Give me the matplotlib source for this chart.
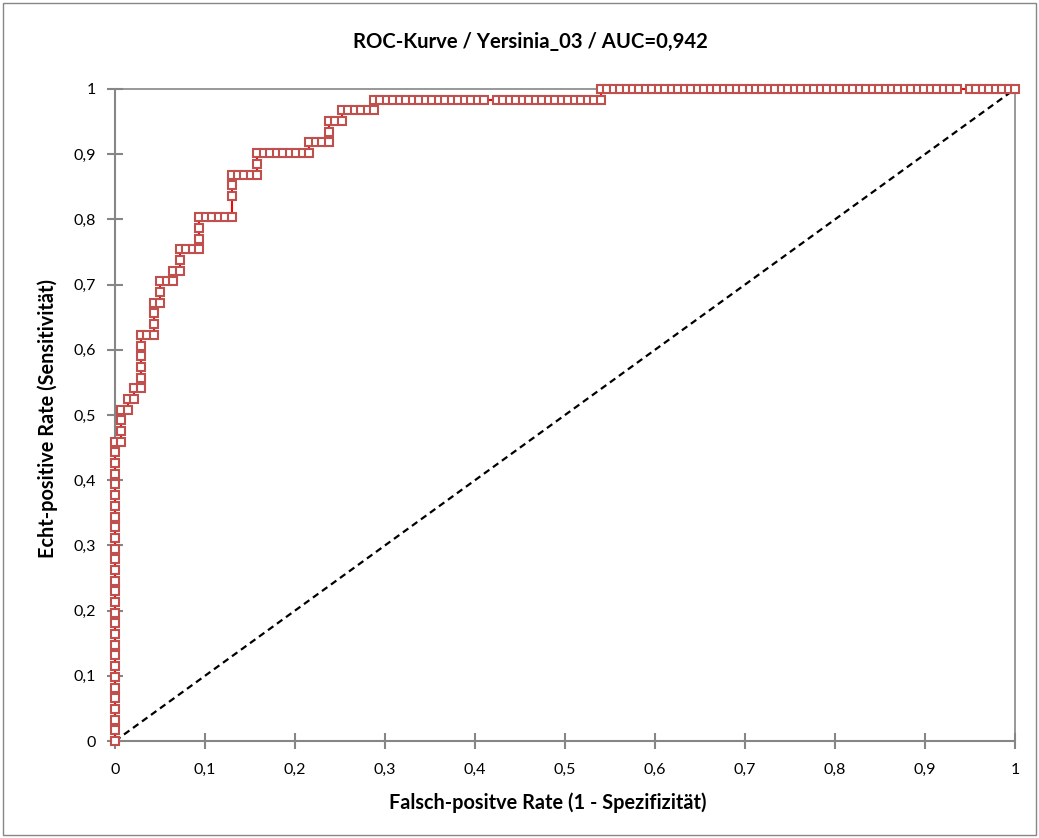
import matplotlib

matplotlib.use("Agg")
import matplotlib.pyplot as plt
from matplotlib.patches import Rectangle
from matplotlib.ticker import FuncFormatter

plt.rcParams["font.family"] = ["Lato", "DejaVu Sans"]

N_POS = 61
N_NEG = 139

# false positives per threshold point
fp_counts = [
    0, 0, 0, 0, 0, 0, 0, 0, 0, 0, 0, 0, 0, 0, 0, 0, 0, 0, 0, 0, 0, 0, 0, 0, 0, 0, 0, 0, 0,
    1, 1, 1, 1,
    2, 2,
    3, 3,
    4, 4, 4, 4, 4, 4,
    5,
    6, 6, 6, 6,
    7, 7, 7,
    8,
    9, 9,
    10, 10, 10,
    11, 12,
    13, 13, 13, 13,
    14, 15, 16, 17,
    18, 18, 18, 18,
    19, 20, 21,
    22, 22, 22,
    23, 24, 25, 26, 27, 28, 29,
    30, 30,
    31, 32,
    33, 33, 33,
    34,
    35, 35,
    36, 37, 38, 39,
    40, 40,
    41, 42, 43, 44, 45, 46, 47, 48, 49, 50, 51, 52, 53, 54, 55, 56, 57,
    59, 60, 61, 62, 63, 64, 65, 66, 67, 68, 69, 70, 71, 72, 73, 74,
    75, 75,
    76, 77, 78, 79, 80, 81, 82, 83, 84, 85, 86, 87, 88, 89, 90, 91, 92, 93, 94, 95,
    96, 97, 98, 99, 100, 101, 102, 103, 104, 105, 106, 107, 108, 109, 110, 111, 112,
    113, 114, 115, 116, 117, 118, 119, 120, 121, 122, 123, 124, 125, 126, 127, 128,
    129, 130,
    132, 133, 134, 135, 136, 137, 138, 139,
]

# true positives per threshold point
tp_counts = [
    0, 1, 2, 3, 4, 5, 6, 7, 8, 9, 10, 11, 12, 13, 14, 15, 16, 17, 18, 19, 20, 21, 22, 23, 24, 25, 26, 27, 28,
    28, 29, 30, 31,
    31, 32,
    32, 33,
    33, 34, 35, 36, 37, 38,
    38,
    38, 39, 40, 41,
    41, 42, 43,
    43,
    43, 44,
    44, 45, 46,
    46, 46,
    46, 47, 48, 49,
    49, 49, 49, 49,
    49, 51, 52, 53,
    53, 53, 53,
    53, 54, 55,
    55, 55, 55, 55, 55, 55, 55,
    55, 56,
    56, 56,
    56, 57, 58,
    58,
    58, 59,
    59, 59, 59, 59,
    59, 60,
    60, 60, 60, 60, 60, 60, 60, 60, 60, 60, 60, 60, 60, 60, 60, 60, 60,
    60, 60, 60, 60, 60, 60, 60, 60, 60, 60, 60, 60, 60, 60, 60, 60,
    60, 61,
    61, 61, 61, 61, 61, 61, 61, 61, 61, 61, 61, 61, 61, 61, 61, 61, 61, 61, 61, 61,
    61, 61, 61, 61, 61, 61, 61, 61, 61, 61, 61, 61, 61, 61, 61, 61, 61,
    61, 61, 61, 61, 61, 61, 61, 61, 61, 61, 61, 61, 61, 61, 61, 61,
    61, 61,
    61, 61, 61, 61, 61, 61, 61, 61,
]

diag_x = [0, 1]
diag_y = [0, 1]
ticks = [0, 0.1, 0.2, 0.3, 0.4, 0.5, 0.6, 0.7, 0.8, 0.9, 1]

title = "ROC-Kurve / Yersinia_03 / AUC=0,942"
xlabel = "Falsch-positve Rate (1 - Spezifizität)"
ylabel = "Echt-positive Rate (Sensitivität)"

assert len(fp_counts) == len(tp_counts)

fpr = [f / N_NEG for f in fp_counts]
tpr = [t / N_POS for t in tp_counts]

W, H = 1039, 838
fig = plt.figure(figsize=(W / 100, H / 100), dpi=100)
fig.patch.set_facecolor("white")

fig.patches.append(
    Rectangle((3 / W, 3 / H), 1033 / W, 832 / H, transform=fig.transFigure,
              fill=False, edgecolor="#868686", lw=1)
)

ax = fig.add_axes([115 / W, 97 / H, 900 / W, 652 / H])
ax.set_xlim(0, 1)
ax.set_ylim(0, 1)

ax.plot(diag_x, diag_y, color="black", lw=1.6, ls=(0, (3, 2)), zorder=2)
ax.plot(fpr, tpr, color="#ff0000", lw=1.5, marker="s", markersize=5.4,
        markerfacecolor="white", markeredgecolor="#c0504d", markeredgewidth=1.5,
        clip_on=False, zorder=3)

for side in ["left", "bottom", "top", "right"]:
    ax.spines[side].set_color("#868686")
    ax.spines[side].set_linewidth(1.5)
ax.spines["top"].set_linewidth(1.2)
ax.spines["right"].set_linewidth(1.2)

ax.set_xticks(ticks)
ax.set_yticks(ticks)
fmt = FuncFormatter(lambda v, p: ("%g" % round(v, 1)).replace(".", ","))
ax.xaxis.set_major_formatter(fmt)
ax.yaxis.set_major_formatter(fmt)
ax.tick_params(direction="inout", length=12, width=1.5, color="#868686",
               labelsize=11.5, pad=8)
ax.tick_params(axis="x", pad=10)

fig.text(530 / W, 1 - 42 / H, title, ha="center", va="center",
         fontsize=14.6, fontweight="bold")
fig.text(548 / W, 1 - 803 / H, xlabel, ha="center", va="center",
         fontsize=14.3, fontweight="bold")
fig.text(48 / W, 1 - 418 / H, ylabel, ha="center", va="center",
         fontsize=14.3, fontweight="bold", rotation=90)

fig.savefig("out.png", dpi=100)
